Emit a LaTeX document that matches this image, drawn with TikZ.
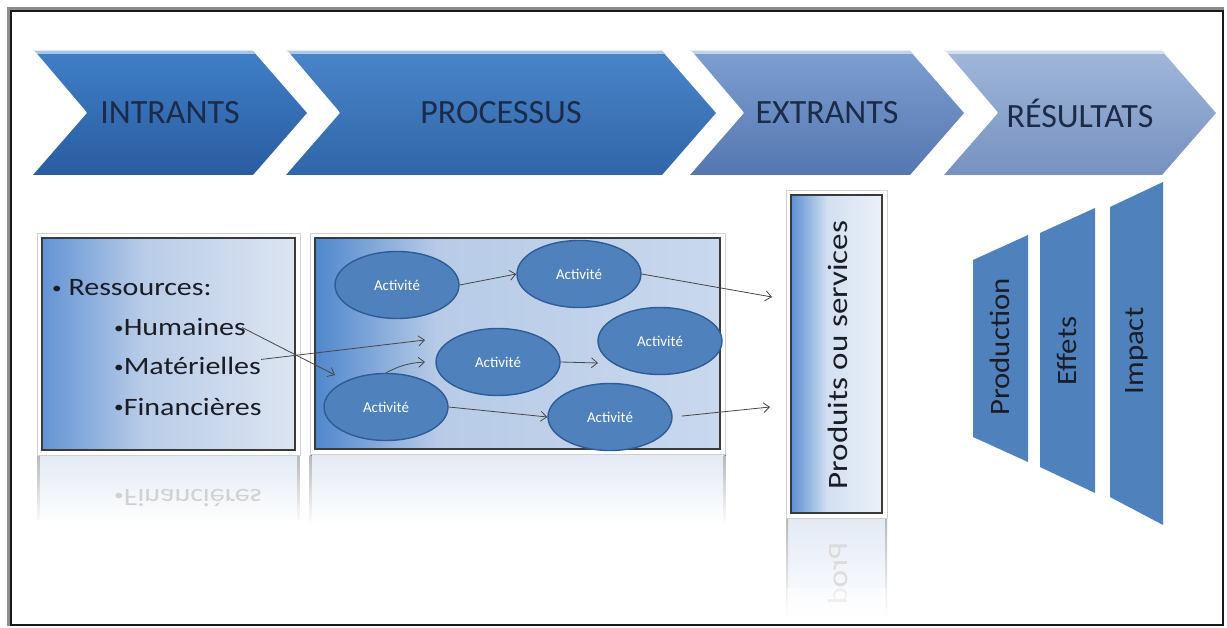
\documentclass[tikz,border=0pt]{standalone}
\usepackage{fontspec}
\setmainfont{Carlito}
\usetikzlibrary{arrows.meta,shapes.geometric}

% palette
\definecolor{navy}{HTML}{1C2B4A}
\definecolor{inkdark}{HTML}{1A1D26}
\definecolor{boxline}{HTML}{3A3A3A}
\definecolor{actfill}{HTML}{4F81BD}
\definecolor{actline}{HTML}{2F5C96}
\definecolor{trapfill}{HTML}{4F81BD}
\definecolor{cAtop}{HTML}{3F7FC8}\definecolor{cAbot}{HTML}{2A5C9F}
\definecolor{cBtop}{HTML}{4A84C9}\definecolor{cBbot}{HTML}{3066A8}
\definecolor{cCtop}{HTML}{7C9ED0}\definecolor{cCbot}{HTML}{5577B0}
\definecolor{cDtop}{HTML}{A0B7DA}\definecolor{cDbot}{HTML}{7691BF}
\definecolor{inL}{HTML}{6393D4}\definecolor{inM}{HTML}{B9CCE7}\definecolor{inR}{HTML}{DCE5F1}
\definecolor{prL}{HTML}{5087CC}\definecolor{prM}{HTML}{B7CBE7}\definecolor{prR}{HTML}{C9D8ED}
\definecolor{ouL}{HTML}{5C8ED0}\definecolor{ouM}{HTML}{D3E0F1}\definecolor{ouR}{HTML}{EAF0F7}
\definecolor{mirror}{HTML}{E3EAF4}

% left-to-right fills whose light part starts early
\pgfdeclarehorizontalshading{inshade}{100bp}{color(0bp)=(inL); color(25bp)=(inL);
  color(45bp)=(inM); color(75bp)=(inR); color(100bp)=(inR)}
\pgfdeclarehorizontalshading{procshade}{100bp}{color(0bp)=(prL); color(25bp)=(prL);
  color(40bp)=(prM); color(75bp)=(prR); color(100bp)=(prR)}
\pgfdeclarehorizontalshading{outshade}{100bp}{color(0bp)=(ouL); color(25bp)=(ouL);
  color(45bp)=(ouM); color(75bp)=(ouR); color(100bp)=(ouR)}

\newcommand{\smallbullet}{\raisebox{2.5pt}{\fontsize{16}{16}\selectfont •}}

\tikzset{
  chevtext/.style={font=\fontsize{34}{40}\selectfont, text=navy, inner sep=0pt},
  listtext/.style={font=\fontsize{25}{30}\selectfont, text=inkdark, inner sep=0pt, anchor=base west},
  vfont/.style={font=\fontsize{28}{32}\selectfont, text=inkdark, inner sep=0pt},
  vtext/.style={vfont, rotate=90},
  activity/.style={ellipse, draw=actline, line width=1.4pt, fill=actfill,
    minimum width=124pt, minimum height=67pt, inner sep=0pt, text=white,
    font=\fontsize{15}{18}\selectfont},
  flow/.style={draw=black!72, line width=0.8pt, -{Straight Barb[length=6pt,width=10pt]}},
  glow/.style={draw=black!18, line width=0.8pt, fill=white},
  panel/.style={draw=boxline, line width=1.6pt},
}

% one chevron of the top band: left x, right x, top colour, bottom colour, name, label
\newcommand{\flowchevron}[6]{%
  \path[top color=#3, bottom color=#4]
    (#1,51) -- (#2,51) -- (#2+54,113) -- (#2,175) -- (#1,175) -- (#1+54,113) -- cycle;
  \begin{scope}
    \clip (#1,51) -- (#2,51) -- (#2+54,113) -- (#2,175) -- (#1,175) -- (#1+54,113) -- cycle;
    \draw[white!55!#3, line width=5pt] (#1,52) -- (#2+10,52);
  \end{scope}
  \draw[white, line width=2.2pt, line cap=round] (#1+1,52) -- (#1+52,112);
  \node[chevtext] (#5) at ({(#1+#2+54)/2},113) {#6};
}

\begin{document}
\begin{tikzpicture}[x=1pt,y=-1pt]
\fill[white] (0,0) rectangle (1227,628);
\useasboundingbox (0,0) rectangle (1227,628);

% outer frame with its shadow
\draw[black!45, line width=3pt] (8.5,626) -- (8.5,8.5) -- (1224,8.5);
\draw[black!90, line width=1.8pt] (11,11) rectangle (1223,625);

% top band
\flowchevron{33}{253}{cAtop}{cAbot}{intrants}{INTRANTS}
\flowchevron{286}{662}{cBtop}{cBbot}{processus}{PROCESSUS}
\flowchevron{690}{910}{cCtop}{cCbot}{extrants}{EXTRANTS}
\flowchevron{944}{1162}{cDtop}{cDbot}{resultats}{RÉSULTATS}

% ---- resources panel and its reflection
\fill[top color=mirror, bottom color=white] (38,455) rectangle (299,524);
\fill[top color=black!28, bottom color=white] (37.5,455) rectangle (39.5,524);
\fill[top color=black!28, bottom color=white] (297.5,455) rectangle (299.5,524);
\node[listtext, text=black!18, yscale=-1] (finmirror) at (114,489) {\scalebox{1.2}[1]{\smallbullet Financières}};
\fill[white] (30,520) rectangle (310,530);
\draw[glow] (37,233) rectangle (300,455);
\path[shading=inshade] (42,238) rectangle (295,450);
\draw[panel] (42,238) rectangle (295,450);
\node[listtext] (res) at (52,296) {\scalebox{1.2}[1]{\smallbullet\ Ressources:}};
\node[listtext] (hum) at (114,336) {\scalebox{1.2}[1]{\smallbullet Humaines}};
\node[listtext] (mat) at (114,375) {\scalebox{1.2}[1]{\smallbullet Matérielles}};
\node[listtext] (fin) at (114,415) {\scalebox{1.2}[1]{\smallbullet Financières}};

% ---- process panel and its reflection
\fill[top color=mirror, bottom color=white] (310,455) rectangle (725,524);
\fill[top color=black!28, bottom color=white] (309.5,455) rectangle (311.5,524);
\fill[top color=black!28, bottom color=white] (723.5,455) rectangle (725.5,524);
\draw[glow] (310,233) rectangle (725,454);
\path[shading=procshade] (315,238) rectangle (720,449);
\draw[panel] (315,238) rectangle (720,449);

\node[activity] (e1) at (397,285) {Activité};
\node[activity] (e2) at (579,274) {Activité};
\node[activity] (e3) at (660,341) {Activité};
\node[activity] (e4) at (498,362) {Activité};
\node[activity] (e5) at (386,407) {Activité};
\node[activity] (e6) at (610,417) {Activité};

% free ends of the flow arrows
\coordinate (outA) at (772,297);
\coordinate (outB) at (770,407);
\coordinate (inA) at (335,375);
\coordinate (inB) at (425,340);
\coordinate (inC) at (425,362);
\coordinate (inD) at (598,363);

\draw[flow] (e1.east) -- (e2.west);
\draw[flow] (e2.east) -- (outA);
\draw[flow] ([xshift=-4pt]hum.east) -- (inA);
\draw[flow] ([yshift=-2pt]mat.north east) -- (inB);
\draw[flow] (e5.north) to[bend left=12] (inC);
\draw[flow] (e4.east) -- (inD);
\draw[flow] (e5.east) -- (e6.west);
\draw[flow, shorten <=9pt] (e6.east) -- (outB);

% ---- products panel and its reflection
\fill[top color=mirror, bottom color=white] (787,518) rectangle (886,618);
\fill[top color=black!28, bottom color=white] (786,518) rectangle (788,618);
\fill[top color=black!28, bottom color=white] (885,518) rectangle (887,618);
\node[vfont, text=black!14, rotate=-90, yscale=-1, anchor=west] (prodmirror) at (838,542)
  {\scalebox{1.18}[1]{Prod}};
\fill[white, fill opacity=0.55] (787,588) rectangle (886,618);
\draw[glow] (786,190) rectangle (887,518);
\path[shading=outshade] (791,195) rectangle (882,513);
\draw[panel] (791,195) rectangle (882,513);
\node[vtext] (prod) at (838,355) {\scalebox{1.18}[1]{Produits ou services}};

% ---- results blocks
\fill[trapfill] (973,260) -- (1028,235) -- (1028,462) -- (973,437) -- cycle;
\fill[trapfill] (1040,233) -- (1095,208) -- (1095,493) -- (1040,467) -- cycle;
\fill[trapfill] (1110,207) -- (1163,182) -- (1163,525) -- (1110,497) -- cycle;
\node[vtext] (production) at (1000,347) {\scalebox{1.1}[1]{Production}};
\node[vtext] (effets) at (1067,351) {\scalebox{1.1}[1]{Effets}};
\node[vtext] (impact) at (1137,351) {\scalebox{1.1}[1]{Impact}};
\end{tikzpicture}
\end{document}
